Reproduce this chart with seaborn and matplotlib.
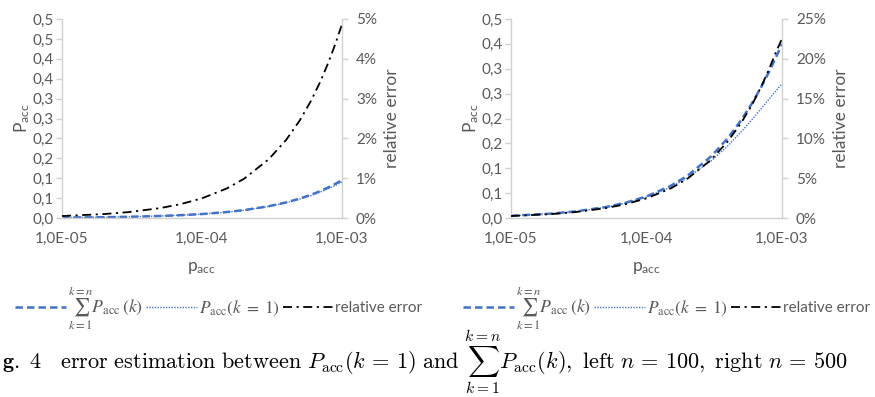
import numpy as np
import pandas as pd
import matplotlib
matplotlib.use("Agg")
import matplotlib.pyplot as plt
import seaborn as sns
from matplotlib.ticker import FixedLocator, FixedFormatter, NullLocator
from matplotlib.font_manager import FontProperties
from matplotlib.lines import Line2D

# ---------------- data ----------------
p_acc = [1e-5, 2e-5, 3e-5, 5e-5, 7e-5, 1e-4, 1.5e-4, 2e-4, 3e-4, 4e-4,
         5e-4, 6e-4, 7e-4, 8e-4, 9e-4, 1e-3]

# left panel, n = 100
sum_n100 = [0.0009995, 0.001998, 0.0029955, 0.0049875, 0.0069756, 0.00995,
            0.014888, 0.019801, 0.029554, 0.039211, 0.048783, 0.058235,
            0.067606, 0.076913, 0.086107, 0.095208]
p1_n100 = [0.000999, 0.001996, 0.002991, 0.004975, 0.006951, 0.009901,
           0.014778, 0.019606, 0.029117, 0.038440, 0.047585, 0.056522,
           0.065290, 0.073906, 0.082326, 0.090570]
err_n100 = [0.000495, 0.00099, 0.001485, 0.002475, 0.003465, 0.00494,
            0.00741, 0.00987, 0.01478, 0.01967, 0.02455, 0.02941,
            0.03426, 0.03909, 0.04391, 0.0487]

# right panel, n = 500
sum_n500 = [0.0049875, 0.00995, 0.014888, 0.024690, 0.034394, 0.048773,
            0.072257, 0.095181, 0.139332, 0.181333, 0.221246, 0.259210,
            0.295377, 0.329770, 0.362520, 0.393620]
p1_n500 = [0.0049751, 0.0099007, 0.014777, 0.024384, 0.033798, 0.047566,
           0.069591, 0.090500, 0.129139, 0.163799, 0.194786, 0.222371,
           0.246791, 0.268306, 0.287124, 0.303494]
err_n500 = [0.00249, 0.00495, 0.00746, 0.0124, 0.0173, 0.0247,
            0.0369, 0.0492, 0.0732, 0.0967, 0.1196, 0.1421,
            0.1645, 0.1864, 0.2080, 0.2250]

x_ticks = [1e-5, 1e-4, 1e-3]
x_ticklabels = ["1,0E-05", "1,0E-04", "1,0E-03"]

left_ylabels_n100 = ["0,0", "0,1", "0,1", "0,2", "0,2", "0,3", "0,3", "0,4", "0,4", "0,5", "0,5"]
left_ylabels_n500 = ["0,0", "0,1", "0,1", "0,2", "0,2", "0,3", "0,3", "0,4", "0,5"]
right_ylabels_n100 = ["0%", "1%", "2%", "3%", "4%", "5%"]
right_ylabels_n500 = ["0%", "5%", "10%", "15%", "20%", "25%"]

legend_labels = [r"$\sum_{k=1}^{k=n} P_{\mathrm{acc}}\,(k)$",
                 r"$P_{\mathrm{acc}}(k\;=\;1)$",
                 "relative error"]

# ---------------- style ----------------
sns.set_style("white")
plt.rcParams["font.family"] = ["Lato", "DejaVu Sans"]
plt.rcParams["mathtext.fontset"] = "stix"
GRAY_TXT = "#595959"
GRAY_AX = "#d0d0d0"
BLUE = "#4472C4"
DASH_SUM = (0, (3.0, 1.6))
DOT_P1 = (0, (1.0, 1.0))
DASHDOT_ERR = (0, (5, 2.5, 1.2, 2.5))

fig = plt.figure(figsize=(8.75, 3.97), dpi=100)
W, H = 875, 397


def axes_px(x0, x1, ytop, ybot):
    return fig.add_axes([x0 / W, 1 - ybot / H, (x1 - x0) / W, (ybot - ytop) / H])


def panel(ax, s, p1, err, ymax_left, left_labels, ymax_right, right_labels):
    df = pd.DataFrame({"p": p_acc, "sum": s, "p1": p1, "err": err})
    sns.lineplot(data=df, x="p", y="sum", ax=ax, color=BLUE, lw=1.8,
                 linestyle=DASH_SUM)
    sns.lineplot(data=df, x="p", y="p1", ax=ax, color=BLUE, lw=1.0,
                 linestyle=DOT_P1)
    ax2 = ax.twinx()
    sns.lineplot(data=df, x="p", y="err", ax=ax2, color="black", lw=1.3,
                 linestyle=DASHDOT_ERR)
    ax.set_xscale("log")
    ax.set_xlim(1e-5, 1e-3)
    ax.set_ylim(0, ymax_left)
    ax2.set_ylim(0, ymax_right)
    n_l = len(left_labels)
    ax.yaxis.set_major_locator(FixedLocator(np.linspace(0, ymax_left, n_l)))
    ax.yaxis.set_major_formatter(FixedFormatter(left_labels))
    n_r = len(right_labels)
    ax2.yaxis.set_major_locator(FixedLocator(np.linspace(0, ymax_right, n_r)))
    ax2.yaxis.set_major_formatter(FixedFormatter(right_labels))
    ax.xaxis.set_major_locator(FixedLocator(x_ticks))
    ax.xaxis.set_major_formatter(FixedFormatter(x_ticklabels))
    ax.xaxis.set_minor_locator(NullLocator())
    for a in (ax, ax2):
        for sp in a.spines.values():
            sp.set_visible(False)
        a.tick_params(colors=GRAY_AX, labelcolor=GRAY_TXT, labelsize=11,
                      length=4, width=1, pad=2)
    ax.spines["left"].set_visible(True)
    ax.spines["bottom"].set_visible(True)
    ax2.spines["right"].set_visible(True)
    for sp in (ax.spines["left"], ax.spines["bottom"], ax2.spines["right"]):
        sp.set_color(GRAY_AX)
        sp.set_linewidth(1.0)
    ax.tick_params(axis="x", pad=6)
    ax2.tick_params(axis="y", pad=6)
    ax.set_xlabel(r"$\mathregular{p_{acc}}$", color=GRAY_TXT, fontsize=12.5, labelpad=10)
    ax.set_ylabel(r"$\mathregular{P_{acc}}$", color=GRAY_TXT, fontsize=12.5, labelpad=0)
    ax2.set_ylabel("relative error", color=GRAY_TXT, fontsize=12.5, labelpad=5)
    for a in (ax, ax2):
        lg = a.get_legend()
        if lg is not None:
            lg.remove()
    return ax2


axL = axes_px(62, 342, 19, 218)
panel(axL, sum_n100, p1_n100, err_n100, 0.5, left_ylabels_n100, 0.05, right_ylabels_n100)
axR = axes_px(511, 782, 19, 218)
panel(axR, sum_n500, p1_n500, err_n500, 0.45, left_ylabels_n500, 0.25, right_ylabels_n500)

handles = [Line2D([], [], color=BLUE, lw=1.8, linestyle=DASH_SUM),
           Line2D([], [], color=BLUE, lw=1.0, linestyle=DOT_P1),
           Line2D([], [], color="black", lw=1.3, linestyle=DASHDOT_ERR)]
legprop = FontProperties(family=["Lato", "DejaVu Sans"], size=11, math_fontfamily="stix")
for cx in (219, 667):
    lg = fig.legend(handles, legend_labels, loc="center", ncol=3,
                    bbox_to_anchor=(cx / W, 1 - 308 / H), frameon=False,
                    prop=legprop, handlelength=3.3, handletextpad=0.15,
                    columnspacing=0.2, borderpad=0)
    texts = lg.get_texts()
    for t in texts:
        t.set_color(GRAY_TXT)
    texts[0].set_fontsize(12.8)
    texts[1].set_fontsize(12.5)

caption = (r"$\mathbf{g.\ 4}\quad\mathrm{error\ estimation\ between}\ P_{\mathrm{acc}}(k\,=\,1)\ "
           r"\mathrm{and}\ \sum_{k=1}^{k=n} P_{\mathrm{acc}}(k),\ \mathrm{left}\ n\,=\,100,"
           r"\ \mathrm{right}\ n\,=\,500$")
fig.text(2 / W, 1 - 370 / H, caption, fontsize=16.0, color="black", ha="left",
         va="baseline", math_fontfamily="cm")

fig.savefig("out.png", dpi=100)
